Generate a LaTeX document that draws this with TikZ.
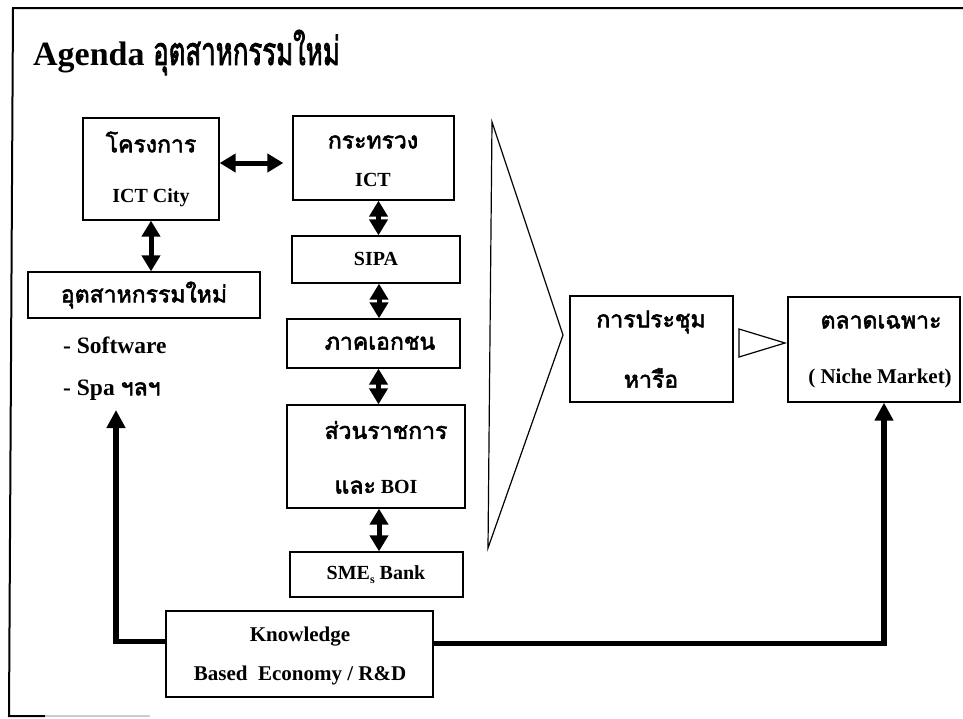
\documentclass[tikz,border=0pt]{standalone}
\usepackage{fontspec}
\setmainfont{Liberation Serif}
\newfontfamily\thaifont[Script=Thai, AutoFakeBold=2.5]{Loma}
\usetikzlibrary{arrows.meta,calc}

\newcommand{\thb}[1]{{\thaifont\fontsize{23}{26}\selectfont #1}}

\begin{document}
\begin{tikzpicture}[x=1pt,y=-1pt,
  font=\bfseries\fontsize{20}{24}\selectfont,
  box/.style={draw, line width=1.3pt, inner sep=0pt},
  txt/.style={inner sep=0pt},
  bigtxt/.style={inner sep=0pt, font=\bfseries\fontsize{23.5}{28}\selectfont},
  dbl/.style={line width=5pt,
    {Triangle[width=18pt,length=16pt]}-{Triangle[width=18pt,length=16pt]}},
  conn/.style={line width=5.5pt, line join=miter,
    -{Triangle[width=18pt,length=18pt]}},
  wedge/.style={draw, line width=1.2pt, line join=miter}]
\useasboundingbox (0,0) rectangle (963,718);

% slide border
\draw[line width=2pt] (963,8) -- (13,8) -- (9,716) -- (45,716);
\draw[line width=1.5pt, gray!40] (45,716) -- (150,716);

% title
\node[txt, anchor=base west, font=\bfseries\fontsize{34}{40}\selectfont]
  (title) at (33,65) {Agenda \scalebox{0.76}[1.15]{\thaifont อุตสาหกรรมใหม่}};

% boxes
\node[box, minimum width=136pt, minimum height=102pt] (A) at (151,169) {};
\node[box, minimum width=161pt, minimum height=84pt]  (B) at (373.5,158) {};
\node[box, minimum width=168pt, minimum height=47pt]  (C) at (376,259.5) {};
\node[box, minimum width=173pt, minimum height=49pt]  (D) at (373.5,343.5) {};
\node[box, minimum width=178pt, minimum height=103pt] (E) at (376,456.5) {};
\node[box, minimum width=173pt, minimum height=45pt]  (F) at (376.5,574.5) {};
\node[box, minimum width=232pt, minimum height=46pt]  (G) at (144,295) {};
\node[box, minimum width=163pt, minimum height=106pt] (I) at (651.5,349) {};
\node[box, minimum width=172pt, minimum height=105pt] (K) at (874,349.5) {};
\node[box, minimum width=267pt, minimum height=86pt]  (L) at (299.5,654) {};

% box texts
\node[txt] (A1) at (151,142) {\thb{โครงการ}};
\node[txt] (A2) at (151,198) {ICT City};
\node[txt] (B1) at (373,142) {\thb{กระทรวง}};
\node[txt] (B2) at (373,180) {ICT};
\node[txt] (C1) at (376,259) {SIPA};
\node[txt] (D1) at (380,343) {\thb{ภาคเอกชน}};
\node[txt] (E1) at (386,430) {\thb{ส่วนราชการ}};
\node[txt] (E2) at (376,487) {\thb{และ} BOI};
\node[txt] (F1) at (376,575) {SME\raisebox{-4pt}{\fontsize{12}{12}\selectfont s} Bank};
\node[txt] (G1) at (144,295) {\thb{อุตสาหกรรมใหม่}};
\node[bigtxt, anchor=west] (S1) at (63,345) {- Software};
\node[bigtxt, anchor=west] (S2) at (63,390) {- Spa \thb{ฯลฯ}};
\node[txt] (I1) at (651,322) {\thb{การประชุม}};
\node[txt] (I2) at (651,378) {\thb{หารือ}};
\node[txt] (K1) at (881,322) {\thb{ตลาดเฉพาะ}};
\node[txt, font=\bfseries\fontsize{21}{25}\selectfont] (K2) at (880,378) {( Niche Market)};
\node[txt, font=\bfseries\fontsize{21}{25}\selectfont] (L1) at (300,637) {Knowledge};
\node[txt, font=\bfseries\fontsize{21}{25}\selectfont] (L2) at (300,675) {Based\ \ Economy / R\&D};

% funnel wedges
\draw[wedge] (492,122) -- (563,335) -- (488,548) -- cycle;
\draw[wedge] (739,329) -- (785,343) -- (739,357) -- cycle;

% two-way links
\coordinate (ab) at ($(A.east)+(0,-6)$);
\draw[dbl, shorten >=9pt] (ab) -- (ab -| B.west);
\draw[dbl] (A.south) -- (A.south |- G.north);
\coordinate (bc) at ($(B.south)+(5,0)$);
\draw[dbl] (bc) -- (bc |- C.north);
\coordinate (cd) at ($(C.south)+(3,0)$);
\draw[dbl] (cd) -- (cd |- D.north);
\coordinate (de) at ($(D.south)+(5,0)$);
\draw[dbl] (de) -- (de |- E.north);
\coordinate (ef) at ($(E.south)+(3,0)$);
\draw[dbl] (ef) -- (ef |- F.north);

% knowledge feeds
\coordinate (spa) at (116,410);
\coordinate (niche) at ($(K.south)+(10,0)$);
\draw[conn] ($(L.north west)+(0,31)$) -| (spa);
\draw[conn] ($(L.north east)+(0,33)$) -| (niche);
\end{tikzpicture}
\end{document}
